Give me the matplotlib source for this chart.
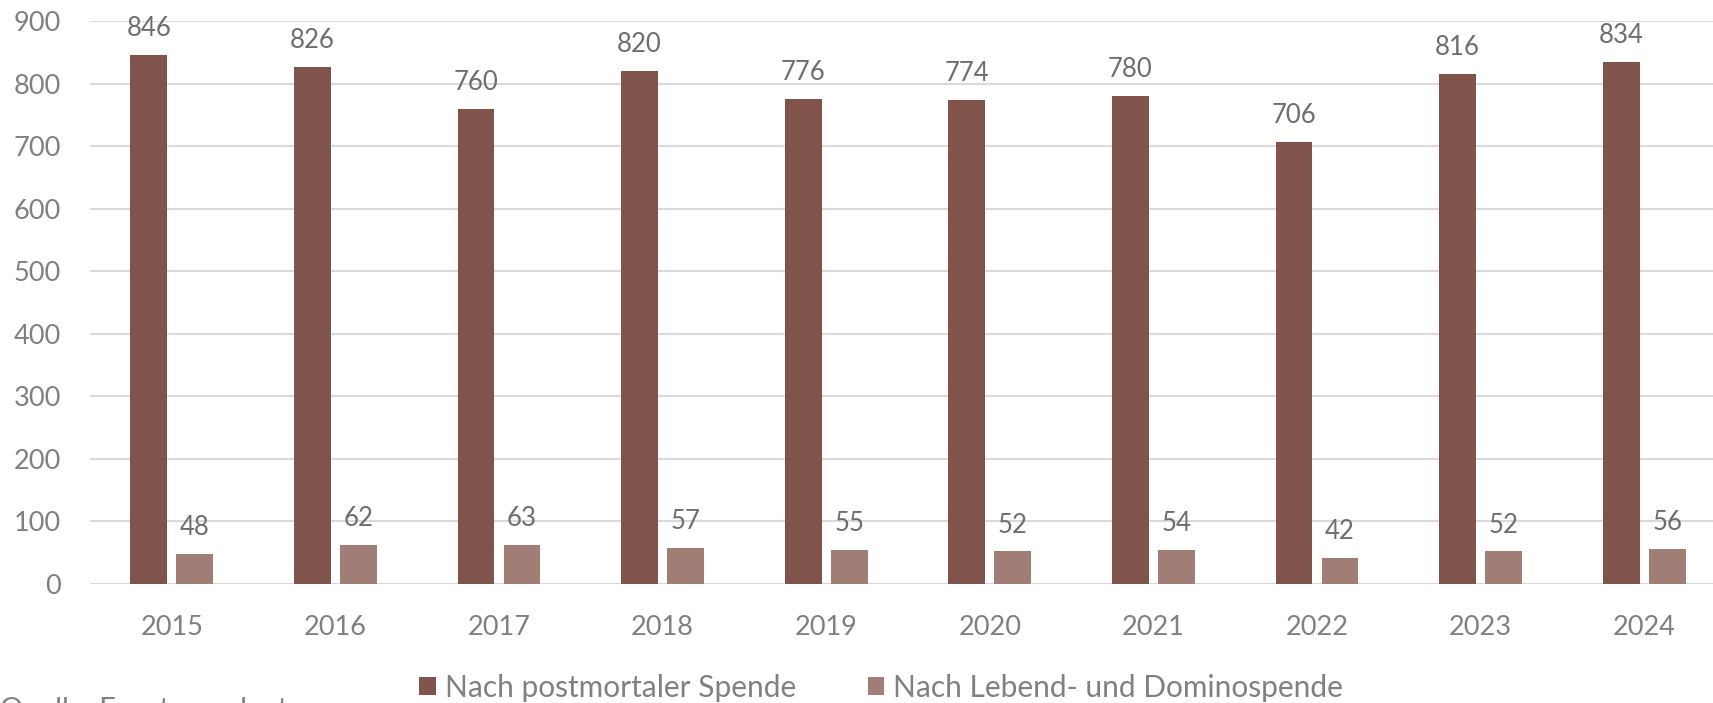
import matplotlib
matplotlib.use("Agg")
import matplotlib.pyplot as plt
import numpy as np

# data
years = ["2015", "2016", "2017", "2018", "2019", "2020", "2021", "2022", "2023", "2024"]
postmortal = [846, 826, 760, 820, 776, 774, 780, 706, 816, 834]
lebend = [48, 62, 63, 57, 55, 52, 54, 42, 52, 56]
yticks = [0, 100, 200, 300, 400, 500, 600, 700, 800, 900]

dark = "#80534B"
light = "#A07E76"
tick_col = "#808080"
label_col = "#6E6E6E"

plt.rcParams['font.family'] = ['Lato', 'DejaVu Sans']

fig = plt.figure(figsize=(17.13, 7.03), dpi=100)
ax = fig.add_axes([90 / 1713, 119 / 703, 1636 / 1713, 563 / 703])

x = np.arange(len(years))
w = 0.226
off = 0.1406
b1 = ax.bar(x - off, postmortal, w, color=dark, label="Nach postmortaler Spende", zorder=3)
b2 = ax.bar(x + off, lebend, w, color=light, label="Nach Lebend- und Dominospende", zorder=3)

for bars, vals in [(b1, postmortal), (b2, lebend)]:
    for b, v in zip(bars, vals):
        ax.annotate(str(v), (b.get_x() + b.get_width() / 2, v), xytext=(0, 10),
                    textcoords="offset points", ha="center", va="bottom",
                    fontsize=18.5, color=label_col)

ax.set_xlim(-0.5, len(years) - 0.5)
ax.set_ylim(0, 900)
ax.set_yticks(yticks)
ax.set_xticks(x)
ax.set_xticklabels(years)
ax.tick_params(axis="y", length=0, pad=21, labelsize=19.5, labelcolor=tick_col)
ax.tick_params(axis="x", length=0, pad=22, labelsize=19.5, labelcolor=tick_col)
ax.grid(axis="y", color="#D9D9D9", linewidth=1.5, zorder=0)
for s in ax.spines.values():
    s.set_visible(False)

fig.legend(loc="center", bbox_to_anchor=(881 / 1713, 15 / 703), ncol=2, frameon=False,
           fontsize=21.5, labelcolor=tick_col, handlelength=0.55, handleheight=0.55,
           handletextpad=0.3, columnspacing=2.4)

fig.text(0.0, 6 / 703, "Quelle: Eurotransplant", ha="left", va="top",
         fontsize=21, color=tick_col)

fig.savefig("out.png", dpi=100)
